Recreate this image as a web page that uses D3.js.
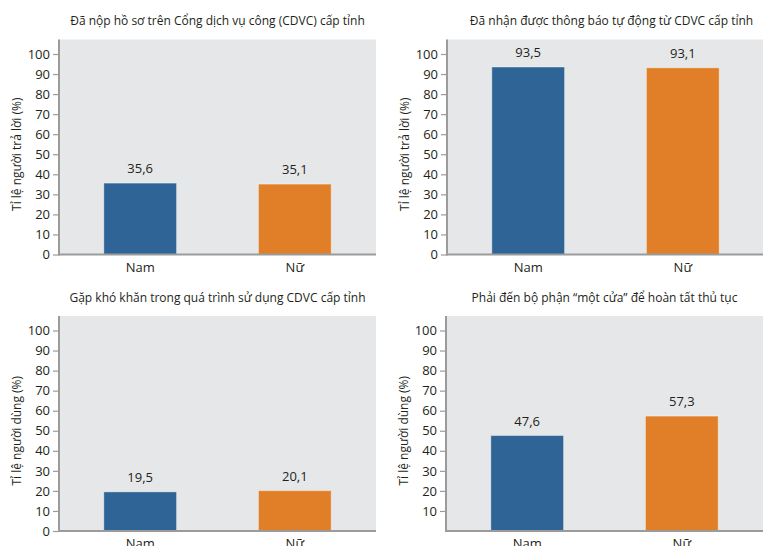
<!DOCTYPE html>
<html><head><meta charset="utf-8">
<script src="https://cdn.jsdelivr.net/npm/d3@7"></script>
<style>
body{margin:0;background:#fff}
svg{display:block}
text{font-family:"Open Sans","Noto Sans",sans-serif;fill:#231f20}
</style>
</head><body>
<script>
// Survey results by sex, four indicators (percent of respondents)
const categories = ["Nam", "Nữ"];
const titles = [
  "Đã nộp hồ sơ trên Cổng dịch vụ công (CDVC) cấp tỉnh",
  "Đã nhận được thông báo tự động từ CDVC cấp tỉnh",
  "Gặp khó khăn trong quá trình sử dụng CDVC cấp tỉnh",
  "Phải đến bộ phận “một cửa” để hoàn tất thủ tục"
];
const yLabels = [
  "Tỉ lệ người trả lời (%)",
  "Tỉ lệ người trả lời (%)",
  "Tỉ lệ người dùng (%)",
  "Tỉ lệ người dùng (%)"
];
const submittedOnline = [35.6, 35.1];
const receivedNotice = [93.5, 93.1];
const hadDifficulty = [19.5, 20.1];
const visitedOneStop = [47.6, 57.3];
const ticksWithZero = [0, 10, 20, 30, 40, 50, 60, 70, 80, 90, 100];
const ticksNoZero = [10, 20, 30, 40, 50, 60, 70, 80, 90, 100];
const barColors = ["#2e6496", "#e07f28"];

const panels = [
  {values: submittedOnline, ticks: ticksWithZero, x: 59,  y: 39.5, titleShift: 0},
  {values: receivedNotice,  ticks: ticksWithZero, x: 447, y: 39.5, titleShift: 6},
  {values: hadDifficulty,   ticks: ticksWithZero, x: 59,  y: 316,  titleShift: 0},
  {values: visitedOneStop,  ticks: ticksNoZero,   x: 446, y: 316,  titleShift: 0}
];

const W = 763, H = 546;
const plotW = 317, plotH = 215;

const svg = d3.select("body").append("svg").attr("width", W).attr("height", H);

panels.forEach((p, i) => {
  const g = svg.append("g").attr("transform", `translate(${p.x},${p.y})`);

  const x = d3.scaleBand().domain(categories).range([0, plotW])
    .paddingInner(0.53).paddingOuter(0.29);
  const y = d3.scaleLinear().domain([0, 100]).range([plotH, plotH - 200.5]);

  // plot background
  g.append("rect").attr("width", plotW).attr("height", plotH).attr("fill", "#e6e7e8");

  // bars
  g.selectAll("rect.bar").data(p.values).join("rect")
    .attr("class", "bar")
    .attr("x", (d, j) => x(categories[j]))
    .attr("width", x.bandwidth())
    .attr("y", d => y(d))
    .attr("height", d => y(0) - y(d))
    .attr("fill", (d, j) => barColors[j])
    .attr("stroke", "rgba(255,255,255,0.35)")
    .attr("stroke-width", 1);

  // value labels
  g.selectAll("text.val").data(p.values).join("text")
    .attr("class", "val")
    .attr("x", (d, j) => x(categories[j]) + x.bandwidth() / 2)
    .attr("y", d => y(d) - 10)
    .attr("text-anchor", "middle")
    .attr("font-size", 13)
    .text(d => d3.format(".1f")(d).replace(".", ","));

  // y axis
  const yAxis = g.append("g").call(
    d3.axisLeft(y).tickValues(p.ticks).tickSize(6).tickPadding(3).tickFormat(d3.format("d"))
  );
  yAxis.select(".domain").remove();
  yAxis.selectAll(".tick line").attr("stroke", "#9b9b9b").attr("stroke-width", 1.2);
  yAxis.selectAll(".tick text").attr("font-size", 13).attr("fill", "#231f20")
    .style("font-family", '"Open Sans","Noto Sans",sans-serif');

  // axis lines
  g.append("line").attr("x1", 0).attr("x2", 0).attr("y1", 0).attr("y2", plotH + 1)
    .attr("stroke", "#9b9b9b").attr("stroke-width", 2);
  g.append("line").attr("x1", 0).attr("x2", plotW).attr("y1", plotH).attr("y2", plotH)
    .attr("stroke", "#9b9b9b").attr("stroke-width", 2);

  // x category labels
  g.selectAll("text.cat").data(categories).join("text")
    .attr("class", "cat")
    .attr("x", d => x(d) + x.bandwidth() / 2)
    .attr("y", plotH + 17)
    .attr("text-anchor", "middle")
    .attr("font-size", 13)
    .text(d => d);

  // y axis title
  g.append("text")
    .attr("transform", `translate(-38,${y(50)}) rotate(-90)`)
    .attr("text-anchor", "middle")
    .attr("font-size", 12)
    .text(yLabels[i]);

  // panel title
  g.append("text")
    .attr("x", plotW / 2 + p.titleShift)
    .attr("y", -14.5)
    .attr("text-anchor", "middle")
    .attr("font-size", 12)
    .text(titles[i]);
});
</script>
</body></html>
